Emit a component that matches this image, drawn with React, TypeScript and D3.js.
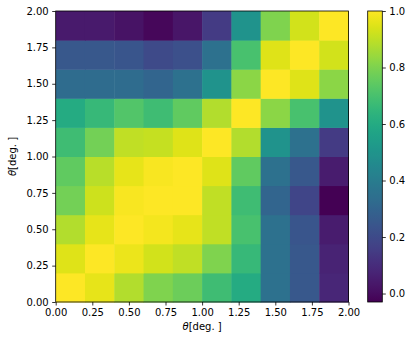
import React, { useEffect, useRef } from 'react';
import * as d3 from 'd3';

// rows from bottom (theta_y 0-0.2) to top (1.8-2.0), columns theta_x 0..2 in 0.2 steps
const row0 = [1.0, 0.96, 0.88, 0.8, 0.77, 0.68, 0.6, 0.35, 0.25, 0.08];
const row1 = [0.95, 1.0, 0.97, 0.93, 0.9, 0.8, 0.66, 0.35, 0.25, 0.07];
const row2 = [0.88, 0.96, 1.0, 0.98, 0.96, 0.9, 0.7, 0.35, 0.24, 0.05];
const row3 = [0.78, 0.92, 0.99, 1.0, 1.0, 0.9, 0.68, 0.3, 0.18, -0.03];
const row4 = [0.75, 0.89, 0.96, 0.99, 1.0, 0.95, 0.75, 0.35, 0.25, 0.05];
const row5 = [0.68, 0.78, 0.9, 0.91, 0.95, 1.0, 0.88, 0.5, 0.35, 0.15];
const row6 = [0.6, 0.66, 0.72, 0.68, 0.75, 0.88, 1.0, 0.82, 0.7, 0.5];
const row7 = [0.33, 0.33, 0.33, 0.3, 0.35, 0.5, 0.82, 1.0, 0.95, 0.82];
const row8 = [0.25, 0.25, 0.24, 0.2, 0.22, 0.35, 0.7, 0.95, 1.0, 0.93];
const row9 = [0.04, 0.04, 0.02, -0.01, 0.03, 0.15, 0.5, 0.8, 0.93, 1.0];
const grid = [row0, row1, row2, row3, row4, row5, row6, row7, row8, row9];

const axisTicks = [0, 0.25, 0.5, 0.75, 1.0, 1.25, 1.5, 1.75, 2.0];
const cbarTicks = [0, 0.2, 0.4, 0.6, 0.8, 1.0];
const vmin = -0.03;
const vmax = 1.0;

const W = 415;
const H = 345;
const font = 'DejaVu Sans, sans-serif';

export default function App() {
  const ref = useRef<SVGSVGElement>(null);

  useEffect(() => {
    const svg = d3.select(ref.current);
    svg.selectAll('*').remove();

    const left = 55.7, right = 348.5, top = 11, bottom = 302;
    const x = d3.scaleLinear().domain([0, 2]).range([left, right]);
    const y = d3.scaleLinear().domain([0, 2]).range([bottom, top]);
    const color = d3.scaleSequential(d3.interpolateViridis).domain([vmin, vmax]);
    const step = 0.2;

    const cells = grid.flatMap((row, j) => row.map((v, i) => ({ i, j, v })));
    svg.append('g')
      .selectAll('rect')
      .data(cells)
      .enter()
      .append('rect')
      .attr('x', d => x(d.i * step))
      .attr('y', d => y((d.j + 1) * step))
      .attr('width', x(step) - x(0) + 0.5)
      .attr('height', y(0) - y(step) + 0.5)
      .attr('fill', d => color(d.v));

    const fmt = d3.format('.2f');
    const xAxis = svg.append('g')
      .attr('transform', `translate(0,${bottom})`)
      .call(d3.axisBottom(x).tickValues(axisTicks).tickFormat(d => fmt(d as number)).tickSizeOuter(0).tickSize(3.5).tickPadding(3.5));
    const yAxis = svg.append('g')
      .attr('transform', `translate(${left},0)`)
      .call(d3.axisLeft(y).tickValues(axisTicks).tickFormat(d => fmt(d as number)).tickSizeOuter(0).tickSize(3.5).tickPadding(3.5));
    [xAxis, yAxis].forEach(a => {
      a.select('.domain').remove();
      a.selectAll('line').attr('stroke', '#000').attr('stroke-width', 0.8);
      a.selectAll('text').attr('font-family', font).attr('font-size', 10).attr('fill', '#000');
    });

    // frame
    svg.append('rect')
      .attr('x', left).attr('y', top)
      .attr('width', right - left).attr('height', bottom - top)
      .attr('fill', 'none').attr('stroke', '#000').attr('stroke-width', 0.8);

    // axis labels
    const xl = svg.append('text')
      .attr('x', (left + right) / 2).attr('y', 330)
      .attr('text-anchor', 'middle')
      .attr('font-family', font).attr('font-size', 10);
    xl.append('tspan').attr('font-style', 'italic').text('θ');
    xl.append('tspan').text('[deg. ]');

    const yl = svg.append('text')
      .attr('transform', `translate(16,${(top + bottom) / 2}) rotate(-90)`)
      .attr('text-anchor', 'middle')
      .attr('font-family', font).attr('font-size', 10);
    yl.append('tspan').attr('font-style', 'italic').text('θ');
    yl.append('tspan').text('[deg. ]');

    // colorbar
    const cbL = 367.7, cbR = 382.3;
    const cy = d3.scaleLinear().domain([vmin, vmax]).range([bottom, top]);
    const defs = svg.append('defs');
    const grad = defs.append('linearGradient')
      .attr('id', 'cbgrad').attr('x1', 0).attr('y1', 1).attr('x2', 0).attr('y2', 0);
    d3.range(0, 1.0001, 0.02).forEach(t => {
      grad.append('stop').attr('offset', t).attr('stop-color', d3.interpolateViridis(t));
    });
    svg.append('rect')
      .attr('x', cbL).attr('y', top)
      .attr('width', cbR - cbL).attr('height', bottom - top)
      .attr('fill', 'url(#cbgrad)');
    svg.append('rect')
      .attr('x', cbL).attr('y', top)
      .attr('width', cbR - cbL).attr('height', bottom - top)
      .attr('fill', 'none').attr('stroke', '#000').attr('stroke-width', 0.8);
    const cAxis = svg.append('g')
      .attr('transform', `translate(${cbR},0)`)
      .call(d3.axisRight(cy).tickValues(cbarTicks).tickFormat(d => d3.format('.1f')(d as number)).tickSizeOuter(0).tickSize(3.5).tickPadding(3.5));
    cAxis.select('.domain').remove();
    cAxis.selectAll('line').attr('stroke', '#000').attr('stroke-width', 0.8);
    cAxis.selectAll('text').attr('font-family', font).attr('font-size', 10).attr('fill', '#000');
  }, []);

  return (
    <svg
      ref={ref}
      width={W}
      height={H}
      style={{ position: 'absolute', left: 0, top: 0, background: '#fff' }}
    />
  );
}
